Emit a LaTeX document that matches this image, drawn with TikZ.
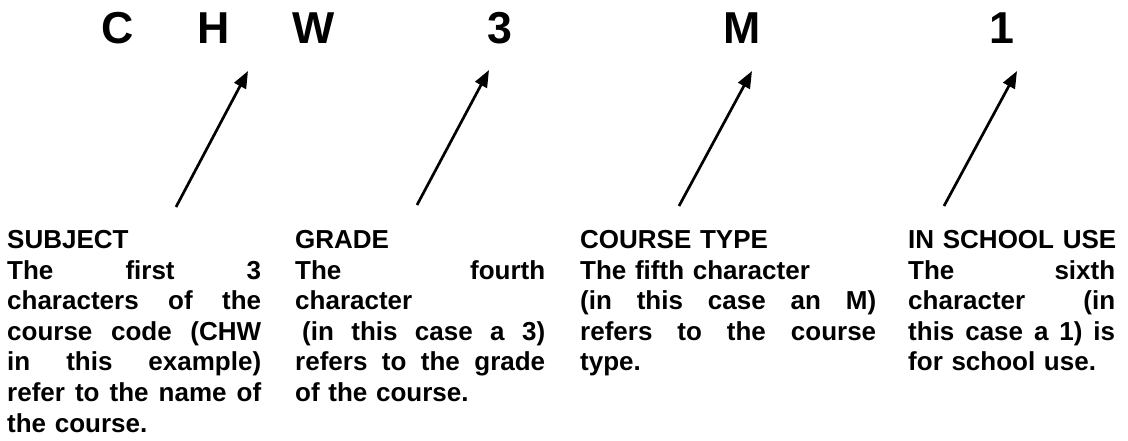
\documentclass[tikz,border=0pt]{standalone}
\usepackage{fontspec}
\setmainfont{Liberation Sans}
\usetikzlibrary{arrows.meta}

% one justified line of a column
\newcommand{\jline}[1]{\makebox[\hsize][s]{\spaceskip=0pt\xspaceskip=0pt\relax #1}\\}

\tikzset{
  codechar/.style={anchor=base, inner sep=0pt, font=\fontsize{44.7}{50}\selectfont\bfseries},
  coltext/.style={anchor=base west, inner sep=0pt, align=left, font=\fontsize{26}{30.6}\selectfont\bfseries},
  pointer/.style={line width=2.7pt, -{Triangle[length=17pt, width=13pt]}}
}

\begin{document}
\begin{tikzpicture}[x=1pt, y=-1pt]
\path[fill=white] (0,0) rectangle (1128,440);
\useasboundingbox (0,0) rectangle (1128,440);

% the course code
\node[codechar] (cC) at (118, 43) {C};
\node[codechar] (cH) at (214, 43) {H};
\node[codechar] (cW) at (314, 43) {W};
\node[codechar] (c3) at (500, 43) {3};
\node[codechar] (cM) at (742, 43) {M};
\node[codechar] (c1) at (1002, 43) {1};

% arrow ends
\coordinate (t1) at (176, 207);
\coordinate (h1) at (248, 71);
\coordinate (t2) at (417, 205);
\coordinate (h2) at (489, 70);
\coordinate (t3) at (679, 206);
\coordinate (h3) at (752, 71);
\coordinate (t4) at (944, 206);
\coordinate (h4) at (1017, 71);

\draw[pointer] (t1) -- (h1);
\draw[pointer] (t2) -- (h2);
\draw[pointer] (t3) -- (h3);
\draw[pointer] (t4) -- (h4);

% explanations
\node[coltext, text width=254pt] (subj) at (7, 248.5) {SUBJECT\\
\jline{The first 3}
\jline{characters of the}
\jline{course code (CHW}
\jline{in this example)}
\jline{refer to the name of}
the course.};

\node[coltext, text width=250pt] (grade) at (295, 248.5) {GRADE\\
\jline{The fourth}
character\\
\jline{\hspace*{7pt}(in this case a 3)}
\jline{refers to the grade}
of the course.};

\node[coltext, text width=296pt] (ctype) at (580, 248.5) {COURSE TYPE\\
The fifth character\\
\jline{(in this case an M)}
\jline{refers to the course}
type.};

\node[coltext, text width=207pt] (school) at (908, 248.5) {\mbox{IN SCHOOL USE}\\
\jline{The sixth}
\jline{character (in}
\jline{this case a 1) is}
for school use.};
\end{tikzpicture}
\end{document}
